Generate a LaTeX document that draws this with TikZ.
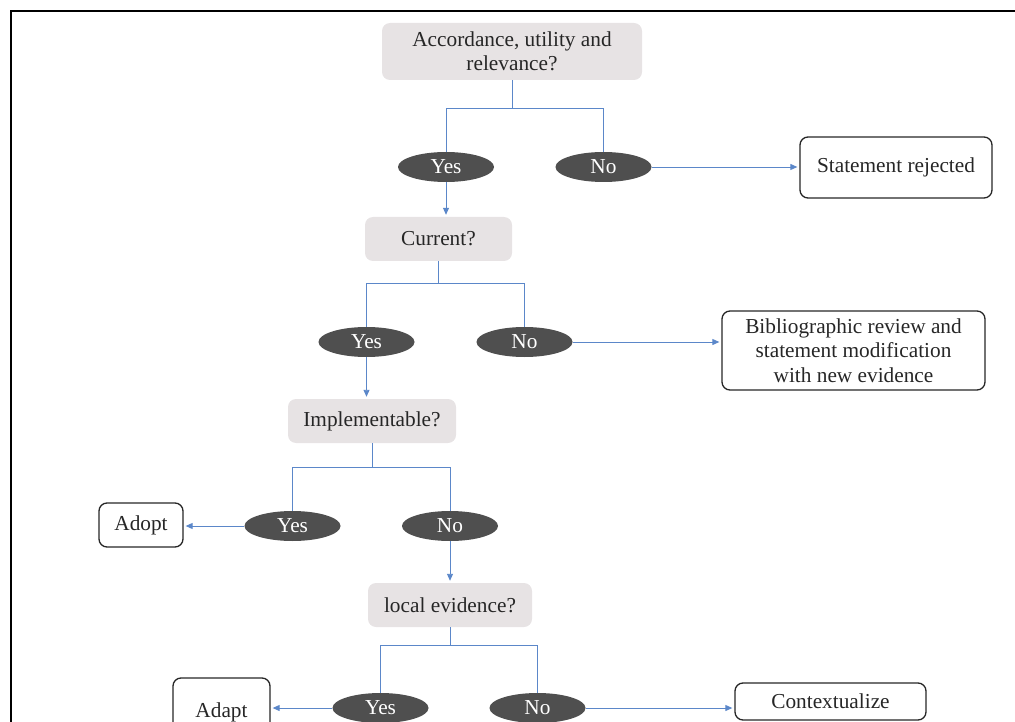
\documentclass[tikz,border=0pt]{standalone}
\usepackage{fontspec}
\setmainfont{Liberation Serif}
\usetikzlibrary{shapes.geometric,arrows.meta}
\definecolor{qfill}{HTML}{E7E3E4}
\definecolor{afill}{HTML}{4F4F4F}
\definecolor{linkblue}{HTML}{5B87C9}

\begin{document}
\begin{tikzpicture}[x=1pt,y=-1pt,
	every node/.style={font=\fontsize{21.3}{24.5}\selectfont, align=center, inner sep=0pt, text=black!85},
	query/.style={fill=qfill, rounded corners=8pt, minimum height=44pt},
	answer/.style={ellipse, fill=afill, text=white, minimum width=96pt, minimum height=30pt},
	outcome/.style={draw=black!85, line width=1.3pt, rounded corners=8pt},
	link/.style={draw=linkblue, line width=0.9pt},
	arrow/.style={link, shorten >=2pt, -{Triangle[length=7pt,width=6pt]}}]
	\clip (0,0) rectangle (1015,722);
	\draw[line width=2pt] (11,11) rectangle (1040,760);

	\node[query, minimum width=260pt, minimum height=57pt] (q1) at (512,51.5) {Accordance, utility and\\relevance?};
	\node[answer] (yes1) at (446,167) {Yes};
	\node[answer] (no1) at (603.5,167) {No};
	\node[outcome, minimum width=192pt, minimum height=61pt] (rej) at (896,167.5) {Statement rejected};

	\node[query, minimum width=147pt] (q2) at (438.5,239) {Current?};
	\node[answer] (yes2) at (366.5,342) {Yes};
	\node[answer] (no2) at (524.5,342) {No};
	\node[outcome, minimum width=263pt, minimum height=79pt] (bib) at (853.5,350.5) {Bibliographic review and\\statement modification\\with new evidence};

	\node[query, minimum width=168pt] (q3) at (372,421) {Implementable?};
	\node[answer] (yes3) at (292.5,526) {Yes};
	\node[answer] (no3) at (450,526) {No};
	\node[outcome, minimum width=84pt, minimum height=44pt] (adopt) at (141,525) {Adopt};

	\node[query, minimum width=164pt] (q4) at (450,605) {local evidence?};
	\node[answer] (yes4) at (380.5,708) {Yes};
	\node[answer] (no4) at (537.5,708) {No};
	\node[outcome, minimum width=97pt, minimum height=68pt] (adapt) at (221.5,712) {Adapt};
	\node[outcome, minimum width=191pt, minimum height=37pt] (ctx) at (830.5,701.5) {Contextualize};

	\draw[link] (q1.south) -- ++(0,28) coordinate (j1);
	\draw[link] (yes1.north) |- (j1) -| (no1.north);
	\draw[arrow] (no1.east) -- (no1.east -| rej.west);
	\draw[arrow] (yes1.south) -- (yes1.south |- q2.north);

	\draw[link] (q2.south) -- ++(0,22) coordinate (j2);
	\draw[link] (yes2.north) |- (j2) -| (no2.north);
	\draw[arrow] (no2.east) -- (no2.east -| bib.west);
	\draw[arrow] (yes2.south) -- (yes2.south |- q3.north);

	\draw[link] (q3.south) -- ++(0,24) coordinate (j3);
	\draw[link] (yes3.north) |- (j3) -| (no3.north);
	\draw[arrow] (yes3.west) -- (yes3.west -| adopt.east);
	\draw[arrow] (no3.south) -- (no3.south |- q4.north);

	\draw[link] (q4.south) -- ++(0,18) coordinate (j4);
	\draw[link] (yes4.north) |- (j4) -| (no4.north);
	\draw[arrow] (yes4.west) -- (yes4.west -| adapt.east);
	\draw[arrow] (no4.east) -- (no4.east -| ctx.west);
\end{tikzpicture}
\end{document}
